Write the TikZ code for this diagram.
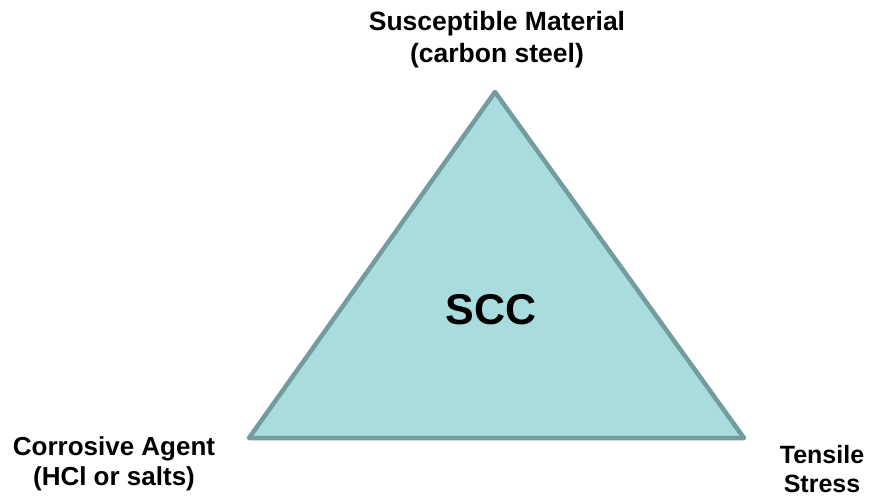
\documentclass[tikz,border=0pt]{standalone}
\usepackage{fontspec}
\setmainfont{Liberation Sans}
\definecolor{trifill}{HTML}{A9DCDC}
\definecolor{triedge}{HTML}{729C9E}
\begin{document}
\begin{tikzpicture}[x=1pt,y=-1pt,
  lbl/.style={align=center, text=black, inner sep=0pt},
  core/.style={font=\bfseries\fontsize{43}{46}\selectfont, text=black, inner sep=0pt}]
\useasboundingbox (0,0) rectangle (870,497);
\coordinate (top) at (495,92);
\coordinate (left) at (249,438);
\coordinate (right) at (744,438);
\draw[triedge, fill=trifill, line width=4.5pt, line join=round] (top) -- (left) -- (right) -- cycle;
\node[core] (scc) at (491,310) {SCC};
\node[lbl, font=\bfseries\fontsize{26.5}{32}\selectfont] (mat) at (497,40) {Susceptible Material\\(carbon steel)};
\node[lbl, font=\bfseries\fontsize{26}{30}\selectfont] (agent) at (114,464) {Corrosive Agent\\(HCl or salts)};
\node[lbl, font=\bfseries\fontsize{25}{29}\selectfont] (stress) at (822,469) {Tensile\\Stress};
\end{tikzpicture}
\end{document}
